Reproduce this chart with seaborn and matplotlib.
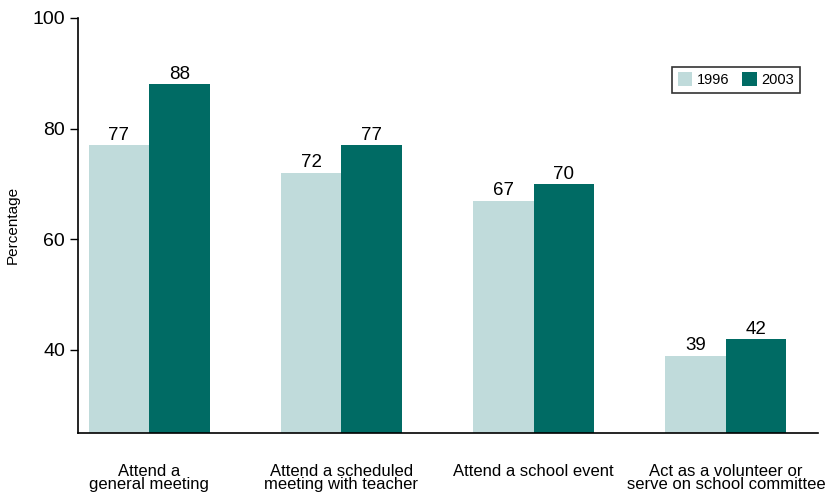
import pandas as pd
import seaborn as sns
import matplotlib.pyplot as plt

activities = ["Attend a\ngeneral meeting",
              "Attend a scheduled\nmeeting with teacher",
              "Attend a school event",
              "Act as a volunteer or\nserve on school committee"]
years = ["1996", "2003"]
pct_1996 = [77, 72, 67, 39]
pct_2003 = [88, 77, 70, 42]

df = pd.DataFrame({
    "activity": activities * 2,
    "year": [years[0]] * 4 + [years[1]] * 4,
    "pct": pct_1996 + pct_2003,
})

sns.set_style("ticks", {"text.color": "black", "axes.labelcolor": "black",
                        "xtick.color": "black", "ytick.color": "black"})
plt.rcParams['font.family'] = ['Liberation Sans', 'DejaVu Sans']

fig, ax = plt.subplots(figsize=(8.4, 4.96), dpi=100)
fig.subplots_adjust(left=0.093, right=0.974, top=0.964, bottom=0.127)

sns.barplot(data=df, x="activity", y="pct", hue="year", order=activities,
            hue_order=years, palette=["#c0dbdb", "#006b64"], width=0.63,
            saturation=1, linewidth=0, ax=ax)

for cont in ax.containers:
    ax.bar_label(cont, fmt="%d", padding=1, fontsize=13.5, color="black")

ax.set_ylim(25, 100)
ax.set_yticks([40, 60, 80, 100])
ax.set_xlim(-0.37, 3.48)
ax.set_xlabel("")
ax.set_ylabel("Percentage", fontsize=11, labelpad=9)
ax.tick_params(axis="y", labelsize=14, length=6, width=1, color="black")
ax.tick_params(axis="x", labelsize=12, length=0, pad=22)
for lab in ax.get_xticklabels():
    lab.set_linespacing(0.9)
sns.despine(ax=ax)
for s in ["left", "bottom"]:
    ax.spines[s].set_linewidth(1.2)
    ax.spines[s].set_color("black")

leg = ax.legend(title=None, ncol=2, loc="upper right",
                bbox_to_anchor=(0.985, 0.9), fontsize=10.5, frameon=True,
                fancybox=False, handlelength=1.0, handleheight=1.0,
                handletextpad=0.3, columnspacing=0.9, borderpad=0.4)
leg.get_frame().set_edgecolor("black")
leg.get_frame().set_linewidth(1.2)

fig.savefig("out.png", dpi=100)
